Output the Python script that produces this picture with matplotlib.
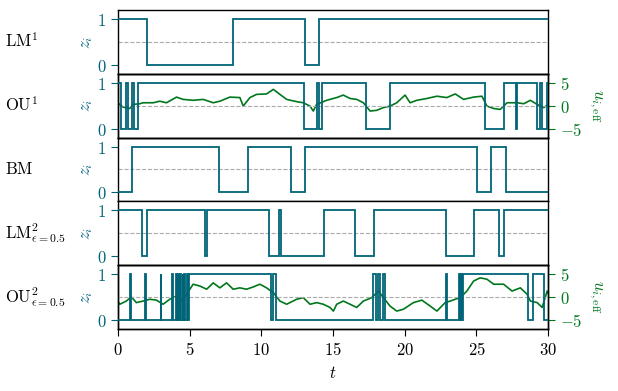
import numpy as np
import matplotlib.pyplot as plt

plt.rcParams['mathtext.fontset'] = 'cm'
plt.rcParams['font.size'] = 12
plt.rcParams['axes.linewidth'] = 1.0

teal = '#006478'
green = '#00771c'

# switching times (edges) and states z_i for each process
lm1_edges = [0, 2.05, 8.03, 13.04, 14.04, 30]
lm1_z = [1, 0, 1, 0, 1]

ou1_edges = [0, 0.2, 0.58, 0.68, 1.0, 1.1, 1.4, 12.99, 13.86, 14.0, 14.23,
             17.3, 18.97, 25.6, 26.89, 27.75, 27.86, 29.2, 29.45, 29.55, 29.9, 30]
ou1_z = [1, 0, 1, 0, 1, 0, 1, 0, 1, 0, 1, 0, 1, 0, 1, 0, 1, 0, 1, 0, 1]

bm_edges = [0, 1.0, 7.05, 9.03, 12.06, 13.04, 25.05, 26.03, 27.05, 30]
bm_z = [0, 1, 0, 1, 0, 1, 0, 1, 0]

lm2_edges = [0, 1.70, 2.05, 6.05, 6.19, 10.55, 11.2, 11.36, 14.39, 16.53,
             17.88, 22.88, 24.86, 26.54, 26.89, 30]
lm2_z = [1, 0, 1, 0, 1, 0, 1, 0, 1, 0, 1, 0, 1, 0, 1]

ou2_edges = [0, 0.84, 0.88, 1.91, 1.95, 2.98, 3.02, 3.78, 3.82, 4.03, 4.08,
             4.15, 4.25, 4.32, 4.4, 4.5, 4.55, 4.62, 4.7, 4.8, 4.85, 4.92,
             10.64, 10.8, 10.99, 17.81, 18.0, 18.1, 18.27, 18.45, 18.62, 22.9,
             22.96, 23.81, 23.88, 23.95, 24.02, 24.08, 28.56, 28.91, 29.68, 30]
ou2_z = [0, 1, 0, 1, 0, 1, 0, 1, 0, 1, 0, 1, 0, 1, 0, 1, 0, 1, 0, 1, 0,
         1, 0, 1, 0, 1, 0, 1, 0, 1, 0, 1, 0, 1, 0, 1, 0, 1, 0, 1, 0]

# effective input u_i,eff
ou1_t = [0.0, 0.12, 0.35, 0.82, 1.05, 1.52, 1.75, 2.45, 2.91, 3.38, 4.08, 4.54,
         5.24, 5.94, 6.64, 7.10, 7.80, 8.50, 8.73, 9.20, 9.66, 10.36, 10.83,
         11.29, 11.76, 12.46, 12.92, 13.39, 13.62, 13.85, 14.55, 14.78, 15.25,
         15.71, 16.18, 16.65, 17.11, 17.58, 18.04, 18.51, 18.97, 19.44, 20.02,
         20.37, 20.84, 21.54, 22.24, 22.93, 23.52, 24.1, 24.8, 25.38, 25.73,
         26.2, 26.66, 27.13, 27.83, 28.3, 28.76, 29.23, 29.7, 30.0]
ou1_u = [0.6, 0.3, -0.3, -0.6, 0.3, 0.45, 0.66, 0.66, 1.0, 0.66, 1.9, 1.4,
         1.2, 1.4, 0.66, 1.0, 1.9, 1.8, -0.07, 1.8, 2.5, 2.6, 3.6,
         2.5, 1.4, 0.9, 0.66, -0.07, -1.16, 0.3, 1.2, 1.4, 1.8,
         2.35, 1.6, 1.4, 0.66, -1.16, -1.0, -0.4, -0.07, 0.66, 2.35,
         0.66, 1.2, 1.6, 2.1, 1.8, 2.6, 1.4, 1.9, 2.1, -0.07,
         -0.6, -0.8, 0.66, 0.66, 0.45, 1.2, 0.3, -0.4, 0.3]

ou2_t = [0.0, 0.12, 0.58, 0.93, 1.28, 1.75, 2.21, 2.68, 3.14, 3.61, 4.08, 4.43,
         4.78, 5.24, 5.71, 6.18, 6.64, 7.1, 7.57, 8.03, 8.5, 8.96, 9.43, 9.89,
         10.36, 10.83, 11.29, 11.76, 12.46, 12.92, 13.39, 13.85, 14.32, 14.78,
         15.02, 15.25, 15.71, 16.18, 16.65, 17.11, 17.69, 18.16, 18.51, 18.97,
         19.44, 19.9, 20.6, 21.19, 21.77, 22.24, 22.82, 23.17, 23.52, 23.87,
         24.33, 24.8, 25.26, 25.73, 26.2, 26.89, 27.48, 28.06, 28.53, 28.76,
         29.23, 29.58, 29.93, 30.0]
ou2_u = [-1.0, -1.6, -0.9, 0.0, -1.24, -0.9, -0.5, -0.7, -1.6, -0.5, 0.2, -0.9,
         0.6, 2.8, 2.4, 1.7, 3.1, 2.0, 3.1, 1.7, 2.0, 1.7, 2.2, 2.8,
         2.0, 0.95, -0.9, -1.6, -0.5, -0.15, -1.6, -1.24, -1.6, -2.3,
         -3.1, -1.6, -0.9, -1.6, -2.3, -0.9, -0.15, 1.3, -0.15, -2.0,
         -3.1, -2.7, -1.24, -0.7, -2.0, -3.1, -1.24, -0.9, -0.5, -0.15,
         1.3, 3.5, 4.2, 3.9, 2.8, 2.8, 1.3, 2.0, 0.6, -0.9,
         -1.24, -2.3, 1.3, 0.8]

row_labels = [r'$\mathrm{LM}^1$', r'$\mathrm{OU}^1$', r'$\mathrm{BM}$',
              r'$\mathrm{LM}^2_{\epsilon=0.5}$', r'$\mathrm{OU}^2_{\epsilon=0.5}$']
z_data = [(lm1_edges, lm1_z), (ou1_edges, ou1_z), (bm_edges, bm_z),
          (lm2_edges, lm2_z), (ou2_edges, ou2_z)]
u_data = {1: (ou1_t, ou1_u), 4: (ou2_t, ou2_u)}

fig = plt.figure(figsize=(6.18, 3.91), dpi=100)
axes = fig.subplots(5, 1, sharex=True, gridspec_kw=dict(hspace=0))
fig.subplots_adjust(left=0.191, right=0.887, top=0.974, bottom=0.159)

for i, ax in enumerate(axes):
    edges, z = z_data[i]
    ax.axhline(0.5, color='#aaaaaa', ls='--', lw=0.8, zorder=1)
    ax.stairs(z, edges, baseline=None, color=teal, lw=1.3, zorder=3)
    ax.set_ylim(-0.2, 1.2)
    ax.set_xlim(0, 30)
    ax.set_yticks([0, 1])
    ax.set_yticklabels([r'$0$', r'$1$'])
    ax.tick_params(axis='y', colors=teal, length=5, labelsize=12)
    ax.set_ylabel(r'$z_i$', color=teal, fontsize=12, labelpad=1)
    if i < 4:
        ax.tick_params(axis='x', bottom=False, labelbottom=False)

    if i in u_data:
        ax2 = ax.twinx()
        t, u = u_data[i]
        ax2.plot(t, u, color=green, lw=1.2, zorder=2)
        ax2.set_ylim(-7, 7)
        ax2.set_yticks([-5, 0, 5])
        ax2.set_yticklabels([r'$-5$', r'$0$', r'$5$'])
        ax2.tick_params(axis='y', colors=green, length=5, labelsize=12)
        ax2.set_ylabel(r'$u_{i,\mathrm{eff}}$', color=green, fontsize=12,
                       rotation=270, labelpad=16)
        ax.set_zorder(ax2.get_zorder() + 1)
        ax.patch.set_visible(False)

    pos = ax.get_position()
    fig.text(0.008, (pos.y0 + pos.y1) / 2, row_labels[i], ha='left',
             va='center', fontsize=12)

axes[-1].set_xticks([0, 5, 10, 15, 20, 25, 30])
axes[-1].set_xticklabels([r'$%d$' % v for v in [0, 5, 10, 15, 20, 25, 30]])
axes[-1].tick_params(axis='x', length=5, labelsize=12)
axes[-1].set_xlabel(r'$t$', fontsize=12)

fig.savefig('out.png', dpi=100)
